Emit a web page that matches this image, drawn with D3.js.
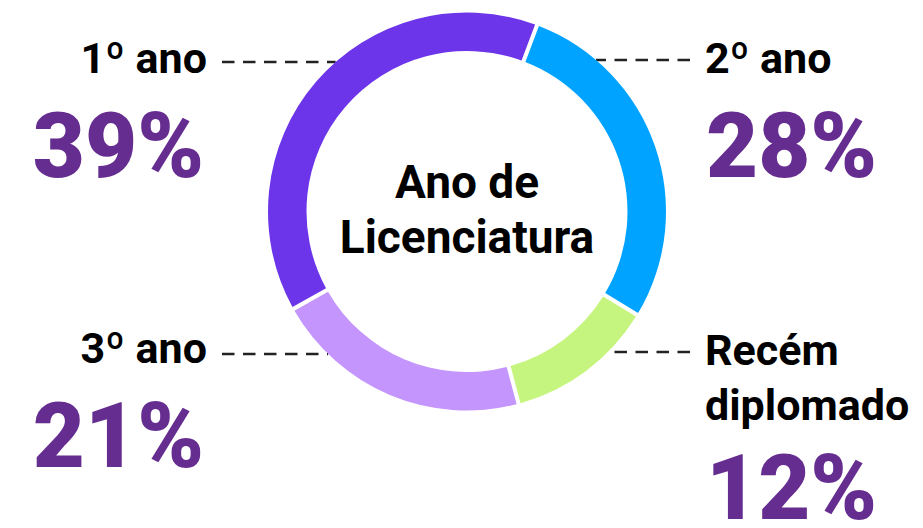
<!DOCTYPE html>
<html>
<head>
<meta charset="utf-8">
<script src="https://cdn.jsdelivr.net/npm/d3@7"></script>
<style>
  body { margin: 0; background: #fff; }
  svg { display: block; font-family: Roboto, "Noto Sans", sans-serif; }
</style>
</head>
<body>
<div id="chart"></div>
<script>
// data, in drawing order (clockwise from the top right)
const categories = ["2º ano", "Recém diplomado", "3º ano", "1º ano"];
const values = [28, 12, 21, 39];
const colors = ["#00a3ff", "#c6f57f", "#c495fc", "#6c35e9"];
const centerLines = ["Ano de", "Licenciatura"];

// label placement per category (side, y of the dash line, y of first text baseline)
const labelLayout = [
  {side: "right", lineY: 60, textY: 73, pctY: 177},
  {side: "right", lineY: 352, textY: 365, pctY: 519},
  {side: "left", lineY: 354, textY: 363, pctY: 467},
  {side: "left", lineY: 62, textY: 73, pctY: 177}
];

const width = 923, height = 528;
const cx = 467, cy = 211.5;
const outerR = 199, innerR = 160.5;
const startA = 20.6 * Math.PI / 180;

const svg = d3.select("#chart")
  .append("svg")
  .attr("width", width)
  .attr("height", height);

const pie = d3.pie()
  .sort(null)
  .value(d => d)
  .startAngle(startA)
  .endAngle(startA + 2 * Math.PI)
  .padAngle(0.016);

const arc = d3.arc()
  .innerRadius(innerR)
  .outerRadius(outerR);

// dashed leader lines (end at the ring edge)
const leftTextX = 207, rightTextX = 705;
labelLayout.forEach(l => {
  const dy = l.lineY - cy;
  const dx = Math.sqrt(outerR * outerR - dy * dy);
  const x1 = l.side == "left" ? 222 : 690;
  const x2 = l.side == "left" ? cx - dx : cx + dx;
  svg.append("line")
    .attr("x1", x1).attr("x2", x2)
    .attr("y1", l.lineY).attr("y2", l.lineY)
    .attr("stroke", "#222")
    .attr("stroke-width", 2.5)
    .attr("stroke-dasharray", "12.5,8.5");
});

const g = svg.append("g")
  .attr("transform", `translate(${cx},${cy})`);

g.selectAll("path")
  .data(pie(values))
  .enter()
  .append("path")
  .attr("d", arc)
  .attr("fill", (d, i) => colors[i]);

g.selectAll("text.center")
  .data(centerLines)
  .enter()
  .append("text")
  .attr("class", "center")
  .attr("x", 0)
  .attr("y", (d, i) => -13.5 + i * 55)
  .attr("text-anchor", "middle")
  .style("font-size", "46px")
  .style("font-weight", "700")
  .style("fill", "#000")
  .text(d => d);

// category labels + percentages
categories.forEach((c, i) => {
  const l = labelLayout[i];
  const x = l.side == "left" ? leftTextX : rightTextX;
  const anchor = l.side == "left" ? "end" : "start";
  const words = c == "Recém diplomado" ? ["Recém", "diplomado"] : [c];
  words.forEach((w, j) => {
    svg.append("text")
      .attr("x", x)
      .attr("y", l.textY + j * 55)
      .attr("text-anchor", anchor)
      .style("font-size", "43px")
      .style("font-weight", "700")
      .style("fill", "#000")
      .text(w);
  });
  svg.append("text")
    .attr("x", l.side == "left" ? leftTextX - 3 : rightTextX + 1)
    .attr("y", l.pctY)
    .attr("text-anchor", anchor)
    .style("font-size", "90px")
    .style("font-weight", "900")
    .style("fill", "#662d91")
    .text(values[i] + "%");
});
</script>
</body>
</html>
